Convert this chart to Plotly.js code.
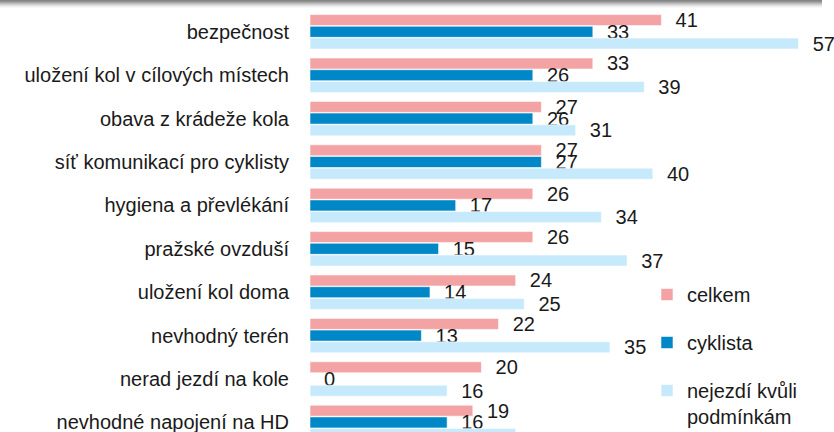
<!DOCTYPE html>
<html>
<head>
<meta charset="utf-8">
<script src="https://cdn.plot.ly/plotly-3.0.1.min.js"></script>
<style>html,body{margin:0;padding:0;background:#fff;}#chart{width:834px;height:432px;}</style>
</head>
<body>
<div id="chart"></div>
<script>
const categories = ["bezpečnost", "uložení kol v cílových místech", "obava z krádeže kola", "síť komunikací pro cyklisty", "hygiena a převlékání", "pražské ovzduší", "uložení kol doma", "nevhodný terén", "nerad jezdí na kole", "nevhodné napojení na HD"];
const seriesNames = ["celkem", "cyklista", "nejezdí kvůli<br>podmínkám"];
const celkem = [41, 33, 27, 27, 26, 26, 24, 22, 20, 19];
const cyklista = [33, 26, 26, 27, 17, 15, 14, 13, 0, 16];
const nejezdi = [57, 39, 31, 40, 34, 37, 25, 35, 16, 24];
const colors = ["#F4A3A5", "#0087C7", "#C6EAFC"];

const values = [celkem, cyklista, nejezdi];
const font = "Liberation Sans";

const traces = values.map((v, i) => ({
  type: "bar",
  orientation: "h",
  name: seriesNames[i],
  legendgroup: "g" + i,
  x: v,
  y: categories,
  marker: {color: colors[i], line: {width: 0.8, color: "rgba(255,255,255,0.7)"}},
  texttemplate: "\u00a0\u00a0%{x}",
  textposition: "outside",
  constraintext: "none",
  cliponaxis: false,
  textfont: {family: font, size: 20, color: "#1a1a1a"},
  hoverinfo: "x+y"
}));

const shapes = [];
const shade = [0.9, 0.8, 0.66, 0.5, 0.36, 0.23, 0.12, 0.05];
shade.forEach((a, k) => {
  shapes.push({
    type: "rect", xref: "paper", yref: "paper",
    x0: -310 / 524, x1: (822 - 310) / 524,
    y0: 1 - (k + 1) / 432, y1: 1 - k / 432,
    line: {width: 0}, fillcolor: "rgba(120,120,120," + a + ")", layer: "above"
  });
});

const layout = {
  width: 834, height: 432,
  margin: {l: 310, r: 0, t: 0, b: 0, pad: 0, autoexpand: false},
  paper_bgcolor: "#fff", plot_bgcolor: "#fff",
  barmode: "group", bargap: 0.19, bargroupgap: 0.06,
  font: {family: font, size: 20, color: "#1a1a1a"},
  xaxis: {range: [0, 61.14], visible: false, fixedrange: true},
  yaxis: {
    type: "category", range: [9.221, -0.733],
    showline: false, showgrid: false, zeroline: false, ticks: "",
    ticklabelstandoff: 20, automargin: false,
    tickfont: {family: font, size: 20, color: "#1a1a1a"}
  },
  showlegend: true,
  legend: {
    x: (647 - 310) / 524, xanchor: "left", y: 1 - 275 / 432, yanchor: "top",
    traceorder: "grouped", tracegroupgap: 19, valign: "top",
    bgcolor: "rgba(0,0,0,0)",
    font: {family: font, size: 20, color: "#1a1a1a"}
  },
  shapes: shapes
};

Plotly.newPlot("chart", traces, layout, {displayModeBar: false, staticPlot: true});
</script>
</body>
</html>
